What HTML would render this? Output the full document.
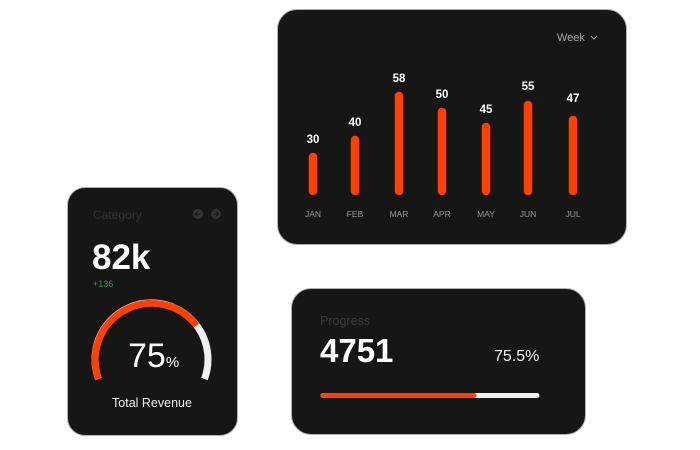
<!DOCTYPE html>
<html><head><style>
body{margin:0;width:700px;height:450px;background:#fff;position:relative;overflow:hidden;font-family:"Liberation Sans",sans-serif}
.card{position:absolute;background:#161616;border:1px solid #b0b0b0;box-sizing:border-box}
</style></head><body>
<div class="card" style="left:277px;top:9px;width:350px;height:236px;border-radius:20px"></div>
<div class="card" style="left:67px;top:187px;width:171px;height:249px;border-radius:18px"></div>
<div class="card" style="left:291px;top:288px;width:295px;height:147px;border-radius:20px"></div>
<svg width="700" height="450" style="position:absolute;left:0;top:0" font-family="Liberation Sans, sans-serif">
<g stroke="#ff4000" stroke-width="8.5" stroke-linecap="round">
<line x1="313" y1="157" x2="313" y2="191"/>
<line x1="355" y1="140" x2="355" y2="191"/>
<line x1="399" y1="96" x2="399" y2="191"/>
<line x1="442" y1="112" x2="442" y2="191"/>
<line x1="486" y1="127" x2="486" y2="191"/>
<line x1="528" y1="105" x2="528" y2="191"/>
<line x1="573" y1="120" x2="573" y2="191"/>
</g>
<g fill="#fff" font-size="11.5" font-weight="bold" text-anchor="middle">
<text x="313" y="143">30</text><text x="355" y="126">40</text><text x="399" y="82">58</text>
<text x="442" y="98">50</text><text x="486" y="113">45</text><text x="528" y="90">55</text><text x="573" y="102">47</text>
</g>
<g fill="#9a9a9a" font-size="8.5" text-anchor="middle">
<text x="313" y="217">JAN</text><text x="355" y="217">FEB</text><text x="399" y="217">MAR</text>
<text x="442" y="217">APR</text><text x="486" y="217">MAY</text><text x="528" y="217">JUN</text><text x="573" y="217">JUL</text>
</g>
<text x="557" y="41" fill="#aaa" font-size="11">Week</text>
<polyline points="591,36 594,39 597,36" fill="none" stroke="#aaa" stroke-width="1"/>
<text x="93" y="219" fill="#333" font-size="12">Category</text>
<circle cx="198" cy="214" r="5" fill="#333"/><circle cx="216" cy="214" r="5" fill="#333"/>
<path d="M200.5 214h-5m2-2-2 2 2 2M213.5 214h5m-2-2 2 2-2 2" stroke="#161616" stroke-width="1" fill="none"/>
<text x="92" y="269" fill="#fff" font-size="35" font-weight="bold">82k</text>
<text x="93" y="287" fill="#2e9a4a" font-size="9">+136</text>
<path d="M98.5 379 A56.5 56.5 0 1 1 204.5 379" fill="none" stroke="#f0f0f3" stroke-width="7"/>
<path d="M98.5 379 A56.5 56.5 0 0 1 196.5 325.5" fill="none" stroke="#ff4000" stroke-width="7"/>
<text x="128" y="367" fill="#fff" font-size="34">75<tspan font-size="15">%</tspan></text>
<text x="152" y="407" fill="#eee" font-size="12.5" text-anchor="middle">Total Revenue</text>
<text x="320" y="325" fill="#3c3c3c" font-size="12.5">Progress</text>
<text x="320" y="362" fill="#fff" font-size="33" font-weight="bold">4751</text>
<text x="494" y="361" fill="#eee" font-size="16">75.5%</text>
<line x1="323" y1="395.5" x2="537" y2="395.5" stroke="#f0f0f0" stroke-width="5" stroke-linecap="round"/>
<line x1="323" y1="395.5" x2="474" y2="395.5" stroke="#ff4000" stroke-width="5" stroke-linecap="round"/>
</svg>
</body></html>
